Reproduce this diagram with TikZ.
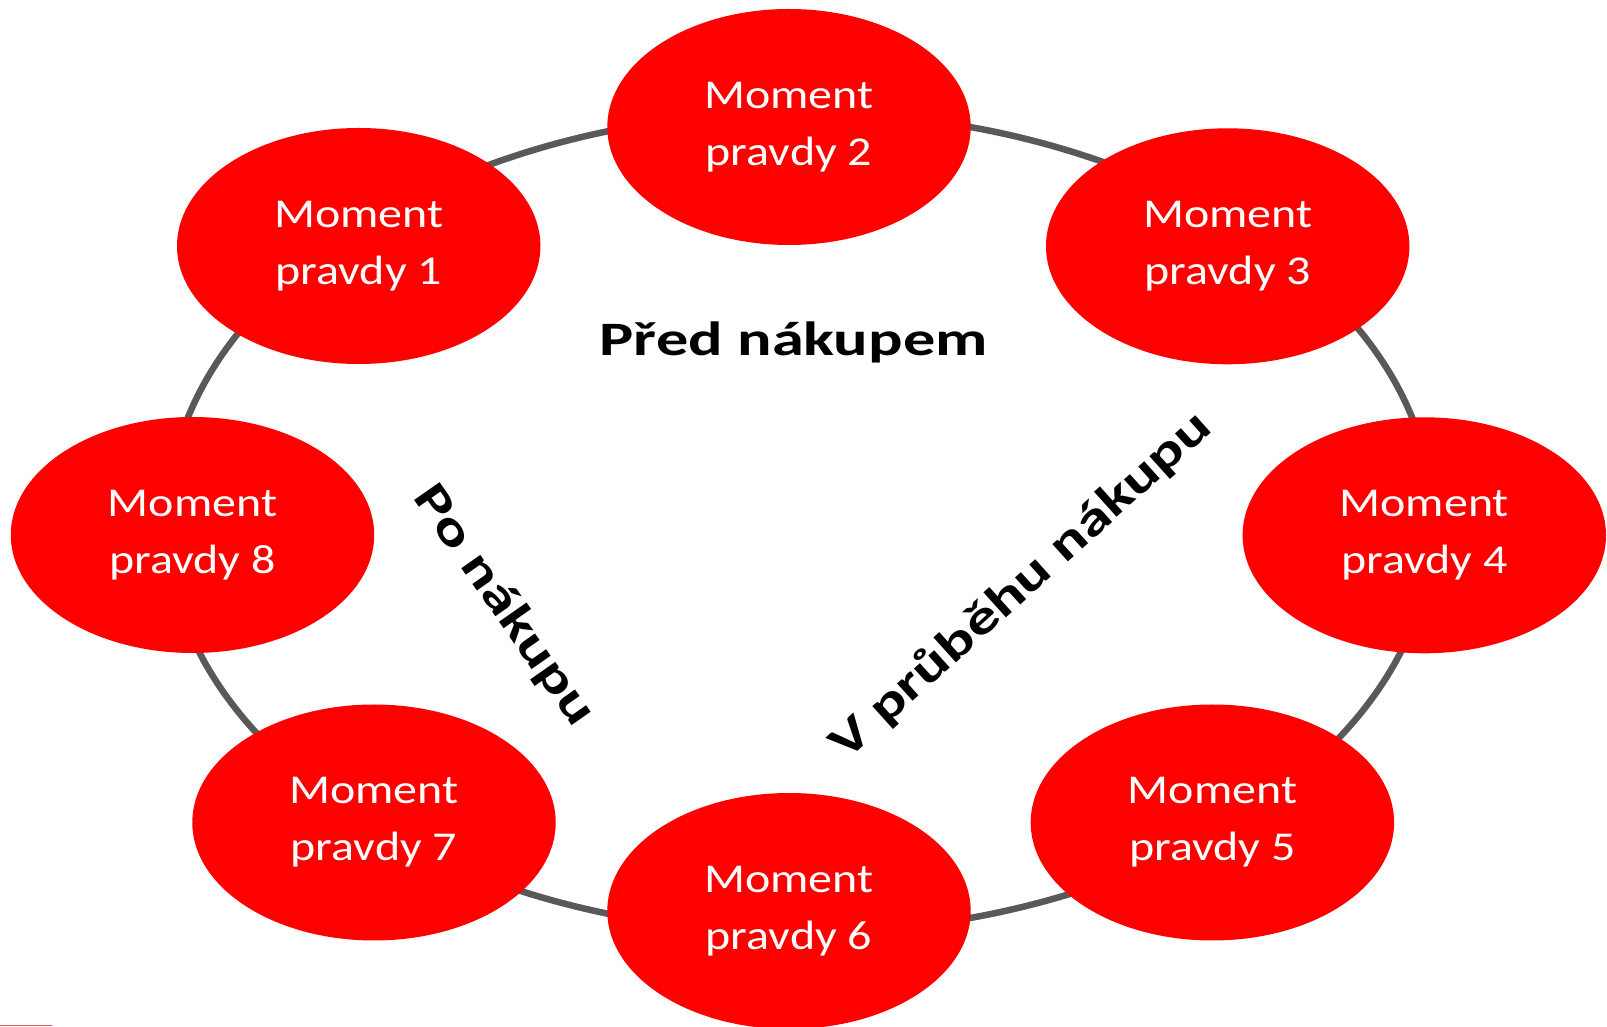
\documentclass[tikz,border=0pt]{standalone}
\usepackage{fontspec}
\setmainfont{Carlito}
\newfontfamily\momentfnt[FakeStretch=1.17]{Carlito}
\newfontfamily\phasefnt[FakeStretch=1.34]{Carlito}
\usetikzlibrary{shapes.geometric}
\definecolor{mred}{HTML}{FE0000}
\definecolor{ringgray}{HTML}{595959}
\definecolor{stripred}{HTML}{E8564A}
\tikzset{
  moment/.style={ellipse, fill=mred, minimum width=363.4pt, minimum height=236pt,
    inner sep=0pt, text=white, align=center,
    font=\momentfnt\fontsize{41}{56.7}\selectfont},
  phase/.style={text=black, inner sep=0pt,
    font=\phasefnt\bfseries\fontsize{48}{58}\selectfont},
  ring/.style={draw=ringgray, line width=6.5pt}
}
\begin{document}
\begin{tikzpicture}[x=1pt,y=1pt]
\useasboundingbox (0,0) rectangle (1607,1026);
\coordinate (c) at (800,503.5);
\draw[ring] (c) ellipse [x radius=633, y radius=410.5];
\node[moment] (m1) at (358.7,780) {Moment\\pravdy 1};
\node[moment] (m2) at (789,899) {Moment\\pravdy 2};
\node[moment] (m3) at (1227.7,779.7) {Moment\\pravdy 3};
\node[moment] (m4) at (1424.3,490.7) {Moment\\pravdy 4};
\node[moment] (m5) at (1212.4,203.5) {Moment\\pravdy 5};
\node[moment] (m6) at (789,115) {Moment\\pravdy 6};
\node[moment] (m7) at (374,203.5) {Moment\\pravdy 7};
\node[moment] (m8) at (192.5,491) {Moment\\pravdy 8};
\node[phase, anchor=base] (pred) at (793.7,670) {Před nákupem};
\node[phase, rotate=-55] (po) at (504,420) {Po nákupu};
\node[phase, rotate=42] (vpr) at (1021,440) {V průběhu nákupu};
\fill[stripred] (0,0) rectangle (51.5,1.5);
\end{tikzpicture}
\end{document}
